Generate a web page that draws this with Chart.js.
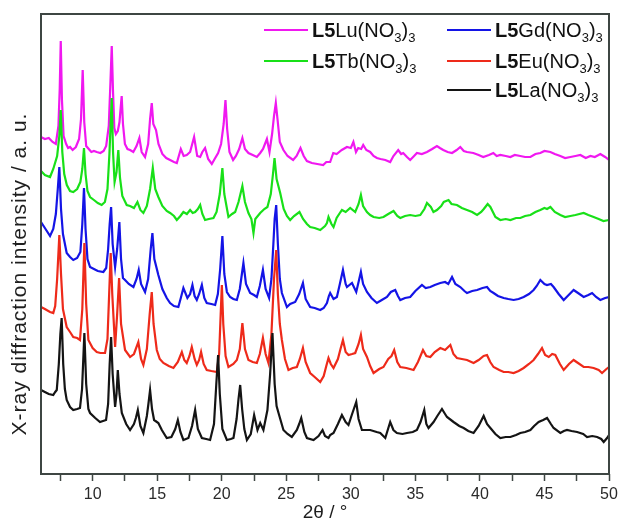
<!DOCTYPE html>
<html>
<head>
<meta charset="utf-8">
<script src="https://cdn.jsdelivr.net/npm/chart.js@4.4.1/dist/chart.umd.min.js"></script>
<style>
  html, body { margin: 0; padding: 0; background: #ffffff; }
  #wrap { width: 619px; height: 520px; }
</style>
</head>
<body>
<div id="wrap"><canvas id="xrd" width="619" height="520"></canvas></div>
<script>
// Powder XRD patterns of the L5·Ln(NO3)3 complexes, stacked with a vertical offset.
// Each trace: [2θ in degrees, intensity in a.u. (offset included)]

const laTrace = [[6.0,84],[6.3,82],[6.6,80],[6.95,79],[7.1,82],[7.22,84],[7.38,110],[7.5,140],[7.6,156],[7.72,110],[7.85,85],[7.99,74],[8.25,67],[8.5,64],[8.8,65],[9.02,66],[9.18,85],[9.36,141],[9.5,90],[9.67,65],[9.8,61],[10.2,56],[10.57,52],[11.04,54],[11.2,70],[11.32,110],[11.43,137],[11.55,100],[11.74,67],[11.85,80],[11.95,104],[12.08,80],[12.26,61],[12.6,50],[12.9,44],[13.2,50],[13.35,56],[13.5,64],[13.7,48],[13.93,41],[14.2,58],[14.32,70],[14.45,84],[14.6,65],[14.76,54],[15.09,51],[15.36,44],[15.74,36],[16.1,37],[16.4,45],[16.6,54],[16.8,42],[17.03,34],[17.42,36],[17.7,48],[17.94,64],[18.15,45],[18.46,36],[18.8,35],[19.1,34],[19.4,50],[19.58,90],[19.72,119],[19.85,80],[20.05,45],[20.4,34],[20.7,35],[20.91,36],[21.15,55],[21.3,75],[21.43,89],[21.58,65],[21.75,45],[21.95,34],[22.25,40],[22.51,59],[22.77,44],[22.98,51],[23.23,44],[23.54,64],[23.75,100],[23.93,141],[24.1,90],[24.25,68],[24.4,61],[24.78,44],[25.1,40],[25.43,37],[25.82,44],[26.0,50],[26.16,56],[26.4,42],[26.6,36],[27.11,34],[27.5,38],[27.81,44],[28.0,38],[28.27,36],[28.4,39],[28.66,41],[29.0,50],[29.31,59],[29.6,52],[29.82,49],[30.1,60],[30.42,72],[30.6,55],[30.86,44],[31.2,44],[31.5,44],[32.0,42],[32.28,41],[32.67,36],[33.05,52],[33.3,44],[33.57,41],[34.0,40],[34.35,41],[34.8,42],[35.12,44],[35.4,52],[35.69,64],[35.85,50],[36.02,46],[36.41,52],[36.7,58],[37.06,65],[37.3,60],[37.45,57],[37.96,52],[38.4,48],[38.74,46],[39.1,43],[39.51,41],[39.9,48],[40.29,58],[40.55,50],[40.81,46],[41.2,40],[41.58,36],[42.0,37],[42.36,37],[42.8,39],[43.13,41],[43.5,42],[43.91,44],[44.2,48],[44.55,52],[44.9,54],[45.2,56],[45.5,50],[45.71,46],[46.23,41],[46.5,43],[46.75,44],[47.1,43],[47.53,42],[48.0,40],[48.3,37],[48.7,38],[49.08,37],[49.4,35],[49.59,32],[49.85,36],[50.0,39]];

const euTrace = [[6.0,167],[6.3,165],[6.7,162],[6.95,161],[7.1,168],[7.25,195],[7.42,239],[7.55,200],[7.7,165],[7.99,147],[8.25,142],[8.5,137],[8.8,136],[9.02,134],[9.2,165],[9.36,231],[9.5,170],[9.67,134],[10.0,126],[10.32,122],[10.6,121],[10.96,121],[11.15,135],[11.28,180],[11.4,221],[11.52,180],[11.74,127],[11.9,160],[12.05,196],[12.2,150],[12.51,124],[12.9,117],[13.2,120],[13.54,132],[13.75,115],[13.93,109],[14.2,125],[14.42,160],[14.58,182],[14.72,150],[14.97,124],[15.2,115],[15.48,111],[15.9,108],[16.26,106],[16.6,112],[16.91,122],[17.1,114],[17.29,111],[17.5,118],[17.68,127],[17.9,115],[18.07,109],[18.25,114],[18.4,122],[18.6,110],[18.84,104],[19.2,103],[19.62,102],[19.8,120],[19.92,160],[20.01,189],[20.12,150],[20.3,118],[20.52,107],[20.9,110],[21.17,114],[21.4,125],[21.6,151],[21.8,125],[22.07,114],[22.4,112],[22.72,111],[22.95,120],[23.19,136],[23.4,120],[23.62,111],[23.85,140],[24.05,195],[24.22,224],[24.35,180],[24.5,150],[24.66,134],[24.9,115],[25.17,104],[25.5,106],[25.82,107],[26.05,115],[26.29,126],[26.5,112],[26.85,101],[27.2,97],[27.63,92],[27.9,98],[28.1,108],[28.27,116],[28.45,110],[28.66,106],[29.0,115],[29.2,125],[29.39,134],[29.6,122],[29.82,119],[30.1,120],[30.34,121],[30.6,130],[30.78,139],[30.95,125],[31.25,117],[31.5,108],[31.76,101],[32.2,105],[32.53,107],[32.9,115],[33.15,118],[33.36,124],[33.6,112],[33.83,107],[34.3,106],[34.86,104],[35.2,112],[35.59,124],[35.85,118],[36.16,117],[36.5,122],[36.93,126],[37.3,124],[37.71,129],[37.95,120],[38.22,116],[38.6,115],[39.0,114],[39.51,111],[39.9,114],[40.29,118],[40.55,119],[40.8,112],[41.06,107],[41.5,104],[41.84,102],[42.2,102],[42.61,101],[43.0,103],[43.39,106],[43.8,110],[44.16,114],[44.5,120],[44.81,126],[45.05,119],[45.33,117],[45.6,120],[45.84,119],[46.2,110],[46.49,104],[46.9,110],[47.26,114],[47.6,111],[48.04,107],[48.4,107],[48.81,106],[49.2,104],[49.46,101],[49.8,105],[50.0,107]];

const gdTrace = [[6.0,252],[6.3,246],[6.7,238],[6.95,245],[7.15,260],[7.3,285],[7.42,307],[7.55,265],[7.7,240],[7.99,221],[8.25,217],[8.5,214],[8.8,216],[9.05,222],[9.2,250],[9.33,286],[9.45,245],[9.6,215],[9.8,207],[10.1,205],[10.4,203],[10.83,202],[11.05,206],[11.2,225],[11.32,250],[11.43,267],[11.55,230],[11.74,207],[11.9,225],[12.07,252],[12.2,215],[12.35,196],[12.51,194],[12.8,190],[13.16,187],[13.4,195],[13.57,204],[13.75,190],[14.06,182],[14.3,195],[14.5,225],[14.63,241],[14.78,215],[15.09,199],[15.4,185],[15.74,176],[16.0,171],[16.3,168],[16.64,167],[16.83,176],[17.03,186],[17.34,176],[17.55,180],[17.73,189],[17.9,178],[18.07,174],[18.25,180],[18.46,189],[18.65,176],[18.84,171],[19.2,170],[19.49,169],[19.7,180],[19.88,205],[20.05,238],[20.2,200],[20.4,182],[20.65,177],[20.9,175],[21.17,174],[21.4,185],[21.68,211],[21.88,190],[22.2,181],[22.5,179],[22.72,177],[22.95,188],[23.19,204],[23.4,185],[23.67,176],[23.85,195],[24.0,230],[24.1,255],[24.22,269],[24.35,230],[24.5,195],[24.66,181],[25.05,167],[25.3,170],[25.69,172],[26.0,180],[26.29,191],[26.5,175],[26.85,167],[27.2,166],[27.63,164],[27.9,166],[28.15,171],[28.3,178],[28.4,181],[28.66,175],[28.92,177],[29.15,190],[29.39,204],[29.6,190],[29.7,187],[30.09,191],[30.42,182],[30.6,192],[30.78,202],[30.95,190],[31.25,182],[31.6,176],[32.02,171],[32.4,174],[32.8,177],[33.1,182],[33.44,184],[33.65,178],[33.83,174],[34.2,176],[34.6,177],[35.0,183],[35.51,189],[35.8,186],[36.16,187],[36.5,189],[36.93,191],[37.3,192],[37.55,190],[37.84,197],[38.1,190],[38.48,187],[38.8,183],[39.0,181],[39.4,183],[39.78,184],[40.2,186],[40.55,187],[40.8,183],[41.06,181],[41.4,178],[41.84,176],[42.2,175],[42.61,174],[43.0,175],[43.39,177],[43.8,180],[44.16,184],[44.4,188],[44.68,194],[45.0,190],[45.2,189],[45.5,190],[45.71,187],[46.1,180],[46.49,174],[46.8,178],[47.26,184],[47.6,181],[48.04,177],[48.4,179],[48.69,181],[49.0,177],[49.33,174],[49.7,176],[50.0,177]];

const tbTrace = [[6.0,303],[6.3,299],[6.7,297],[6.95,305],[7.25,318],[7.42,338],[7.53,364],[7.65,322],[7.8,300],[8.0,289],[8.25,283],[8.5,282],[8.8,285],[9.05,292],[9.2,305],[9.33,326],[9.45,300],[9.6,283],[9.8,277],[10.1,274],[10.4,271],[10.7,269],[10.95,272],[11.15,285],[11.3,320],[11.4,352],[11.48,376],[11.58,322],[11.7,292],[11.85,302],[11.99,324],[12.12,296],[12.3,278],[12.64,269],[12.9,268],[13.2,266],[13.47,272],[13.7,264],[13.93,261],[14.2,268],[14.45,285],[14.66,306],[14.85,285],[15.09,277],[15.4,268],[15.74,263],[16.0,261],[16.3,258],[16.52,254],[16.8,258],[17.03,262],[17.3,260],[17.55,264],[17.75,261],[17.94,262],[18.15,265],[18.33,269],[18.5,260],[18.71,254],[19.0,255],[19.36,256],[19.6,262],[19.85,280],[20.05,306],[20.2,280],[20.52,257],[20.8,260],[21.04,262],[21.3,272],[21.6,288],[21.8,272],[22.07,261],[22.3,255],[22.46,241],[22.6,255],[22.98,261],[23.3,265],[23.54,267],[23.8,280],[23.97,300],[24.09,316],[24.25,295],[24.53,281],[24.8,265],[25.05,258],[25.3,254],[25.6,258],[26.02,262],[26.3,255],[26.6,250],[26.85,247],[27.2,246],[27.63,244],[28.0,248],[28.15,251],[28.27,257],[28.5,250],[28.66,247],[28.9,256],[29.2,262],[29.31,264],[29.6,262],[29.95,266],[30.34,262],[30.6,270],[30.78,279],[30.95,268],[31.25,262],[31.5,259],[31.76,257],[32.2,256],[32.53,257],[32.9,260],[33.31,263],[33.6,258],[33.83,256],[34.2,258],[34.6,259],[35.0,258],[35.38,259],[35.7,265],[35.9,271],[36.2,267],[36.4,262],[36.67,264],[37.0,268],[37.2,272],[37.57,274],[37.8,270],[38.22,269],[38.6,266],[39.0,264],[39.4,262],[39.78,259],[40.1,262],[40.3,265],[40.6,270],[40.81,267],[41.2,257],[41.58,254],[42.0,255],[42.36,254],[42.8,256],[43.13,256],[43.5,258],[43.91,259],[44.3,262],[44.68,264],[45.0,266],[45.2,265],[45.46,267],[45.8,262],[46.23,259],[46.6,257],[47.01,258],[47.4,259],[48.04,261],[48.4,259],[48.81,257],[49.2,255],[49.57,253],[50.0,254]];

const luTrace = [[6.0,337],[6.3,335],[6.6,336],[6.9,332],[7.15,330],[7.35,348],[7.45,385],[7.53,433],[7.62,375],[7.75,338],[7.95,330],[8.1,326],[8.25,327],[8.45,324],[8.7,327],[8.95,335],[9.1,355],[9.23,404],[9.35,352],[9.5,328],[9.7,325],[9.9,322],[10.1,323],[10.32,322],[10.6,321],[10.85,323],[11.05,328],[11.25,348],[11.38,392],[11.48,428],[11.58,382],[11.68,346],[11.8,340],[11.95,343],[12.08,352],[12.17,366],[12.25,378],[12.35,350],[12.5,330],[12.7,325],[12.9,324],[13.15,322],[13.4,328],[13.62,336],[13.8,322],[14.06,317],[14.3,330],[14.45,355],[14.58,371],[14.7,350],[14.91,344],[15.1,330],[15.4,320],[15.7,316],[16.0,314],[16.3,312],[16.52,311],[16.83,325],[17.05,318],[17.29,319],[17.55,322],[17.86,337],[18.1,318],[18.33,317],[18.5,322],[18.71,326],[18.95,315],[19.23,310],[19.45,315],[19.72,321],[19.95,330],[20.15,350],[20.29,374],[20.42,345],[20.6,322],[20.88,314],[21.1,318],[21.35,325],[21.6,336],[21.8,325],[22.07,321],[22.4,319],[22.72,317],[22.98,321],[23.2,325],[23.5,335],[23.7,322],[23.9,340],[24.05,358],[24.19,371],[24.32,355],[24.5,332],[24.78,324],[25.1,318],[25.53,314],[25.8,318],[26.1,326],[26.35,318],[26.6,313],[26.98,311],[27.4,310],[27.86,309],[28.1,312],[28.4,312],[28.64,321],[28.9,320],[29.3,324],[29.7,327],[30.0,326],[30.2,332],[30.4,322],[30.57,326],[30.8,325],[30.96,329],[31.2,324],[31.5,322],[31.76,318],[32.02,316],[32.3,315],[32.67,314],[33.05,312],[33.3,318],[33.67,324],[33.9,320],[34.06,321],[34.35,317],[34.6,314],[34.9,318],[35.12,321],[35.5,320],[35.9,322],[36.3,325],[36.67,328],[36.9,326],[37.16,324],[37.5,322],[37.84,321],[38.2,324],[38.48,327],[38.75,323],[39.0,322],[39.49,321],[39.9,319],[40.26,317],[40.7,319],[41.04,321],[41.3,318],[41.58,319],[42.0,318],[42.36,317],[42.7,319],[43.13,318],[43.5,317],[43.91,317],[44.3,320],[44.68,321],[45.0,323],[45.46,322],[45.8,320],[46.23,318],[46.6,316],[47.01,317],[47.4,318],[47.78,319],[48.2,316],[48.56,318],[48.9,317],[49.33,320],[49.7,317],[50.0,314]];

// Lanthanide of each pattern, in drawing order (first entry is painted on top)
const metals = ['La', 'Eu', 'Gd', 'Tb', 'Lu'];
const traces = [laTrace, euTrace, gdTrace, tbTrace, luTrace];
const colors = ['#141414', '#ee2a1a', '#1414e6', '#18e018', '#f018f0'];

// x-axis tick positions (labels on the multiples of 5)
const xTicks = [7.5, 10, 12.5, 15, 17.5, 20, 22.5, 25, 27.5, 30, 32.5, 35, 37.5, 40, 42.5, 45, 47.5, 50];
const xRange = [6, 50];
const yRange = [0, 460];

const axisInk = '#3e4643';
const FONT = "'Liberation Sans', Arial, Helvetica, sans-serif";

// Legend layout: two columns, Lu/Tb on the left, Gd/Eu/La on the right
const legendCols = { Lu: [0, 0], Tb: [0, 1], Gd: [1, 0], Eu: [1, 1], La: [1, 2] };

const framePlugin = {
  id: 'frame',
  afterDraw(chart) {
    const { ctx, chartArea: a } = chart;
    ctx.save();
    ctx.strokeStyle = axisInk;
    ctx.lineWidth = 2;
    ctx.strokeRect(a.left, a.top, a.right - a.left, a.bottom - a.top);
    ctx.restore();
  }
};

const yTitlePlugin = {
  id: 'yTitle',
  afterDraw(chart) {
    const { ctx, chartArea: a } = chart;
    ctx.save();
    ctx.translate(26, (a.top + a.bottom) / 2 + 30);
    ctx.rotate(-Math.PI / 2);
    ctx.font = '21px ' + FONT;
    ctx.letterSpacing = '1px';
    ctx.fillStyle = '#1e1e1e';
    ctx.textAlign = 'center';
    ctx.textBaseline = 'alphabetic';
    ctx.fillText('X-ray diffraction intensity / a. u.', 0, 0);
    ctx.restore();
  }
};

const legendPlugin = {
  id: 'nitrateLegend',
  afterDraw(chart) {
    const { ctx } = chart;
    const colX = [264, 447];
    const rowY = [30, 61, 90];
    ctx.save();
    chart.data.datasets.forEach(ds => {
      const [c, r] = legendCols[ds.metal];
      const x0 = colX[c], y = rowY[r];
      ctx.strokeStyle = ds.borderColor;
      ctx.lineWidth = 2.2;
      ctx.beginPath();
      ctx.moveTo(x0, y);
      ctx.lineTo(x0 + 44, y);
      ctx.stroke();
      let x = x0 + 48;
      const base = y + 7;
      ctx.fillStyle = '#111';
      ctx.textBaseline = 'alphabetic';
      ctx.textAlign = 'left';
      const part = (txt, font, dy) => {
        ctx.font = font;
        ctx.fillText(txt, x, base + dy);
        x += ctx.measureText(txt).width;
      };
      part('L5', 'bold 20px ' + FONT, 0);
      part(ds.metal + '(NO', '20px ' + FONT, 0);
      part('3', '13px ' + FONT, 5);
      part(')', '20px ' + FONT, 0);
      part('3', '13px ' + FONT, 5);
    });
    ctx.restore();
  }
};

new Chart(document.getElementById('xrd'), {
  type: 'line',
  data: {
    datasets: metals.map((m, i) => ({
      label: 'L5' + m + '(NO3)3',
      metal: m,
      data: traces[i].map(([x, y]) => ({ x, y })),
      borderColor: colors[i],
      borderWidth: 2.2,
      pointRadius: 0,
      tension: 0,
      fill: false
    }))
  },
  options: {
    responsive: false,
    animation: false,
    devicePixelRatio: 1,
    layout: { padding: { left: 41, right: 10, top: 14, bottom: 0 } },
    plugins: { legend: { display: false }, tooltip: { enabled: false } },
    scales: {
      x: {
        type: 'linear',
        min: xRange[0],
        max: xRange[1],
        afterBuildTicks(scale) { scale.ticks = xTicks.map(v => ({ value: v })); },
        afterFit(scale) {
          scale.height = 46;
          scale.paddingLeft = 0;
          scale.paddingRight = 0;
        },
        border: { display: false },
        grid: { display: true, drawOnChartArea: false, drawTicks: true, tickLength: 7, tickColor: axisInk, tickWidth: 1.5 },
        ticks: {
          padding: 6,
          color: '#2a2a2a',
          font: { family: FONT, size: 16, lineHeight: 1 },
          maxRotation: 0,
          autoSkip: false,
          callback: v => (v % 5 === 0 ? String(v) : '')
        },
        title: { display: true, text: '2θ / °', color: '#1e1e1e', font: { family: FONT, size: 19, lineHeight: 0.9 }, padding: { top: 0, bottom: -1 } }
      },
      y: {
        display: false,
        min: yRange[0],
        max: yRange[1]
      }
    }
  },
  plugins: [framePlugin, yTitlePlugin, legendPlugin]
});
</script>
</body>
</html>
